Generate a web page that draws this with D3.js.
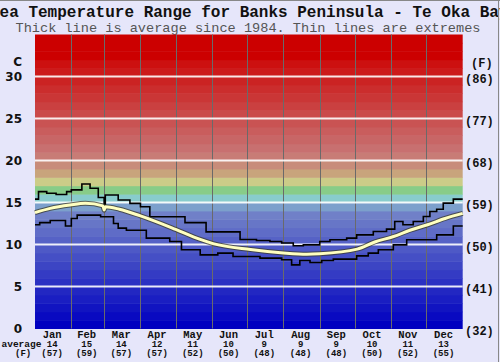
<!DOCTYPE html>
<html><head><meta charset="utf-8">
<script src="https://cdn.jsdelivr.net/npm/d3@7"></script>
<style>body{margin:0;background:#e6e6fa}svg{display:block}</style>
</head><body><svg id="c" width="500" height="362"></svg>
<script>
const title = "Sea Temperature Range for Banks Peninsula - Te Oka Bay";
const subtitle = "Thick line is average since 1984. Thin lines are extremes";
const months = ["Jan","Feb","Mar","Apr","May","Jun","Jul","Aug","Sep","Oct","Nov","Dec"];
const monthDays = [31,28,31,30,31,30,31,31,30,31,30,31];
const monthAvgC = ["14","15","14","12","11","10","9","9","9","10","11","13"];
const monthAvgF = ["(57)","(59)","(57)","(57)","(52)","(50)","(48)","(48)","(48)","(50)","(52)","(55)"];
const ticksC = [0,5,10,15,20,25,30];
const ticksF = ["(32)","(41)","(50)","(59)","(68)","(77)","(86)"];

const avgDay  = [0,13,30,43,58,59,60,72,90,120,141,152,184,212,232,243,275,290,306,320,335,350,365];
const avgTemp = [13.8,14.3,14.7,14.9,14.6,14.1,14.5,14.2,13.4,11.8,10.6,10.1,9.4,9.0,8.85,8.9,9.45,10.3,10.95,11.7,12.35,13.1,13.7];

const maxDay  = [0,3,10,18,27,31,40,47,54,59,60,71,81,90,98,128,146,175,189,200.5,210.5,220.4,229,243,251.7,266,274.5,288.7,300,307,314,322.8,331.4,337,342.8,348.4,357];
const maxTemp = [15.4,16.3,16.1,15.95,16.3,16.5,17.2,16.7,15.6,14.6,15.9,15.3,14.9,14.5,13.3,12.6,11.5,10.6,10.48,10.36,10.17,9.85,9.96,10.36,10.56,10.76,11.15,11.55,11.83,12.74,12.35,12.74,13.33,13.93,14.2,14.93,15.4];

const minDay  = [0,4,13,26,31,36,56,67,71,78,95,115,125,141,156,169,192,210.5,219,226,234.7,244.7,254.6,274.5,284.4,293,305.8,317.2,342.8,357];
const minTemp = [12.35,12.6,12.86,12.2,13.1,13.5,13.3,12.5,11.95,11.7,10.76,10.36,9.37,8.77,8.97,8.57,8.38,8.18,7.58,8.1,7.86,8.1,8.26,8.65,8.97,9.37,9.96,10.56,11.15,12.2];

const svg = d3.select("#c");
const W = 500, H = 362;
const x = d3.scaleLinear().domain([0,365]).range([35,462.7]);
const y = d3.scaleLinear().domain([0,35]).range([328.5,34.5]);
const band = d3.scaleLinear()
  .domain([0,13,14,15,16,17,18,19,20,21,31,32])
  .range(["#0000c0","#7080c8","#7ca0cc","#88cccc","#88cc88","#cccc88","#c8a47c","#c88c7a","#c87c76","#c87070","#cc1010","#cc0000"]);

svg.append("rect").attr("width",W).attr("height",H).attr("fill","#e6e6fa");

const mono = "'Liberation Mono','Courier New',monospace";
svg.append("text").attr("x",-10).attr("y",17).attr("font-family",mono).attr("font-weight","bold")
  .attr("font-size",16).attr("fill","#111").text(title);
svg.append("text").attr("x",248).attr("y",32).attr("text-anchor","middle").attr("font-family",mono)
  .attr("font-size",13.6).attr("fill","#555").text(subtitle);

// bands
const bands = d3.range(0,35);
svg.append("g").selectAll("rect").data(bands).join("rect")
  .attr("x",x(0)).attr("width",x(365)-x(0))
  .attr("y",d=>y(d+1)).attr("height",d=>y(d)-y(d+1)+0.5)
  .attr("fill",d=>band(d));

// month lines
const cum = [0]; monthDays.forEach((d,i)=>cum.push(cum[i]+d));
svg.append("g").selectAll("line").data(cum.slice(1,12)).join("line")
  .attr("x1",d=>Math.round(x(d))+0.5).attr("x2",d=>Math.round(x(d))+0.5)
  .attr("y1",y(35)).attr("y2",y(0)).attr("stroke","#6a6a6a").attr("stroke-width",1);

// grid
svg.append("g").selectAll("line").data(ticksC.slice(1)).join("line")
  .attr("x1",x(0)).attr("x2",x(365)).attr("y1",d=>y(d)).attr("y2",d=>y(d))
  .attr("stroke","#fff").attr("stroke-width",2).attr("opacity",0.9);

// lines
const toPts = (ds,ts)=>{const p = ds.map((d,i)=>[d,ts[i]]); p.push([365,ts[ts.length-1]]); return p;};
const stepLine = d3.line().x(d=>x(d[0])).y(d=>y(d[1])).curve(d3.curveStepAfter);
svg.append("path").attr("d",stepLine(toPts(maxDay,maxTemp))).attr("fill","none").attr("stroke","#000").attr("stroke-width",1.6);
svg.append("path").attr("d",stepLine(toPts(minDay,minTemp))).attr("fill","none").attr("stroke","#000").attr("stroke-width",1.6);
const avgPts = avgDay.map((d,i)=>[d,avgTemp[i]]);
const avgLine = d3.line().x(d=>x(d[0])).y(d=>y(d[1])).curve(d3.curveMonotoneX);
svg.append("path").attr("d",avgLine(avgPts)).attr("fill","none").attr("stroke","#3a3a2a").attr("stroke-width",5).attr("opacity",0.75);
svg.append("path").attr("d",avgLine(avgPts)).attr("fill","none").attr("stroke","#ffffc0").attr("stroke-width",3);

// left axis labels
const sans = "'DejaVu Sans',Verdana,sans-serif";
svg.append("text").attr("x",22).attr("y",65.5).attr("text-anchor","end").attr("font-family",sans).attr("font-weight","bold")
  .attr("font-size",12).attr("fill","#111").text("C");
svg.append("g").selectAll("text").data(ticksC).join("text")
  .attr("x",22).attr("y",d=>y(d)+4.5).attr("text-anchor","end").attr("font-family",sans).attr("font-weight","bold")
  .attr("font-size",12).attr("fill","#111").text(d=>d);

// right labels
svg.append("text").attr("x",471).attr("y",66.5).attr("font-family",mono).attr("font-weight","bold")
  .attr("font-size",12).attr("fill","#111").text("(F)");
svg.append("g").selectAll("text").data(ticksF).join("text")
  .attr("x",465).attr("y",(d,i)=>y(ticksC[i])+6.5).attr("font-family",mono).attr("font-weight","bold")
  .attr("font-size",12).attr("fill","#111").text(d=>d);

// bottom labels
const mid = months.map((m,i)=>x((cum[i]+cum[i+1])/2)-1);
const bot = svg.append("g").attr("font-family",mono).attr("font-weight","bold").attr("fill","#111").attr("text-anchor","middle");
bot.selectAll(".m").data(months).join("text").attr("class","m").attr("x",(d,i)=>mid[i]).attr("y",337.5).attr("font-size",10.5).text(d=>d);
bot.selectAll(".a").data(monthAvgC).join("text").attr("class","a").attr("x",(d,i)=>mid[i]).attr("y",346.5).attr("font-size",9).text(d=>d);
bot.selectAll(".f").data(monthAvgF).join("text").attr("class","f").attr("x",(d,i)=>mid[i]).attr("y",356).attr("font-size",9).text(d=>d);
svg.append("text").attr("x",1.5).attr("y",346.5).attr("font-family",mono).attr("font-weight","bold").attr("font-size",9.5).attr("fill","#111").text("average");
svg.append("text").attr("x",15).attr("y",356).attr("font-family",mono).attr("font-weight","bold").attr("font-size",9).attr("fill","#111").text("(F)");

// border
svg.append("line").attr("x1",0).attr("x2",W).attr("y1",0.5).attr("y2",0.5).attr("stroke","#888");
svg.append("line").attr("x1",498.5).attr("x2",498.5).attr("y1",0).attr("y2",H).attr("stroke","#888");
</script></body></html>
